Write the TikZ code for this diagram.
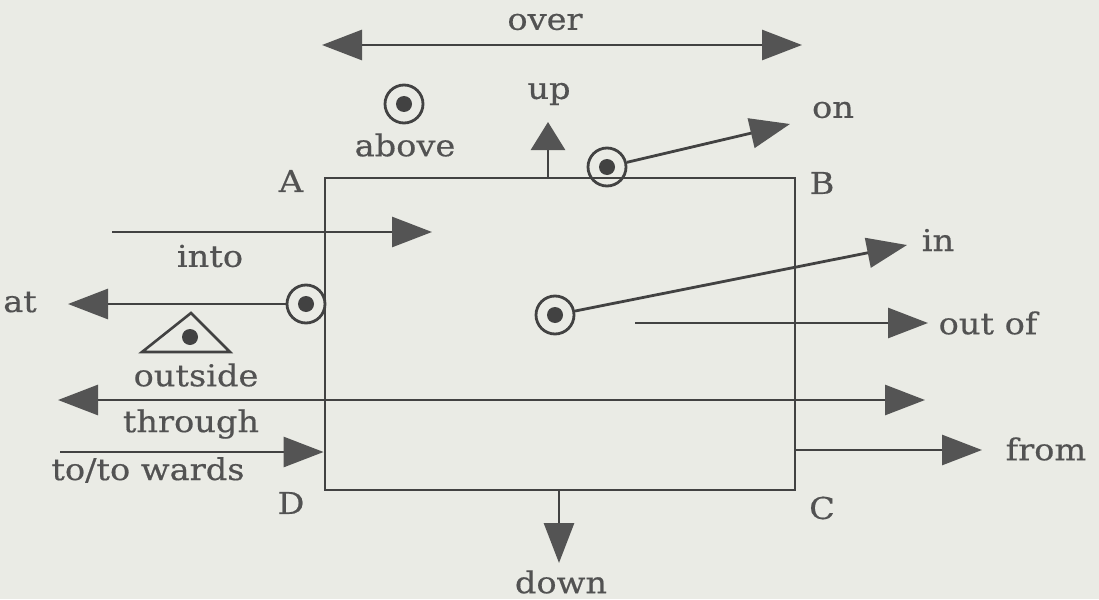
\documentclass[tikz,border=0pt]{standalone}
\usepackage{fontspec}
\setmainfont{DejaVu Serif}[FakeStretch=1.12,FakeBold=0.5]
\usetikzlibrary{arrows.meta}
\definecolor{paper}{RGB}{234,235,229}
\definecolor{ink}{RGB}{66,66,66}
\definecolor{headink}{RGB}{84,84,84}
\definecolor{txt}{RGB}{82,82,82}
\begin{document}
\begin{tikzpicture}[x=1pt,y=-1pt,
  line/.style={draw=ink, line width=2.8pt},
  arr/.style={line, -{Triangle[length=40pt,width=30pt,color=headink,fill=headink]}},
  dblarr/.style={line, {Triangle[length=40pt,width=30pt,color=headink,fill=headink]}-{Triangle[length=40pt,width=30pt,color=headink,fill=headink]}},
  uparr/.style={line, -{Triangle[length=28pt,width=34pt,color=headink,fill=headink]}},
  lbl/.style={text=txt, font=\fontsize{30}{32}\selectfont, inner sep=0pt},
  ring/.style={circle, draw=ink, line width=2.8pt, minimum size=38pt, inner sep=0pt,
    path picture={\fill[ink] (path picture bounding box.center) circle (8pt);}},
  hole/.style={circle, fill=ink, minimum size=16pt, inner sep=0pt},
  region/.style={draw=ink, line width=2.8pt, minimum width=470pt, minimum height=312pt, inner sep=0pt}
]
% paper
\fill[paper] (0,0) rectangle (1099,599);
\useasboundingbox (0,0) rectangle (1099,599);

% the box and its corners
\node[region] (box) at (560,334) {};
\node[lbl] (A) at (291,181) {A};
\node[lbl] (B) at (822,183) {B};
\node[lbl] (C) at (822,508) {C};
\node[lbl] (D) at (291,503) {D};

% over
\coordinate (overL) at (322,45);
\coordinate (overR) at (802,45);
\draw[dblarr] (overL) -- (overR);
\node[lbl] (over) at (545,22) {over};

% above
\node[ring] (abovering) at (404,104) {};
\node[lbl] (above) at (405,145) {above};

% up
\coordinate (upBase) at (548,178);
\coordinate (upTip) at (548,122);
\draw[uparr] (upBase) -- (upTip);
\node[lbl] (up) at (549,94) {up};

% on
\node[ring] (onring) at (607,167) {};
\coordinate (onTip) at (790,124);
\draw[arr] (onring) -- (onTip);
\node[lbl] (on) at (833,110) {on};

% into
\coordinate (intoS) at (112,232);
\coordinate (intoT) at (432,232);
\draw[arr] (intoS) -- (intoT);
\node[lbl] (into) at (210,256) {into};

% at
\node[ring] (atring) at (306,304) {};
\coordinate (atTip) at (68,304);
\draw[arr] (atring) -- (atTip);
\node[lbl] (at) at (20,302) {at};

% outside
\coordinate (triL) at (142,352);
\coordinate (triR) at (230,352);
\coordinate (triT) at (191,313);
\draw[ink, line width=2.6pt, line join=miter] (triL) -- (triT) -- (triR) -- cycle;
\node[hole] (outdot) at (190,337) {};
\node[lbl] (outside) at (196,375) {outside};

% in
\node[ring] (inring) at (555,315) {};
\coordinate (inTip) at (907,245);
\draw[arr] (inring) -- (inTip);
\node[lbl] (in) at (938,240) {in};

% out of
\coordinate (outS) at (635,323);
\coordinate (outT) at (928,323);
\draw[arr] (outS) -- (outT);
\node[lbl] (outof) at (988,323) {out of};

% through
\coordinate (thL) at (58,400);
\coordinate (thR) at (925,400);
\draw[dblarr] (thL) -- (thR);
\node[lbl] (through) at (191,424) {through};

% to/towards
\coordinate (towS) at (60,452);
\draw[arr] (towS) -- (towS -| box.west);
\node[lbl] (towards) at (148,470) {to/to wards};

% from
\coordinate (fromT) at (982,450);
\draw[arr] (box.east |- fromT) -- (fromT);
\node[lbl] (from) at (1046,449) {from};

% down
\coordinate (downBase) at (559,490);
\coordinate (downTip) at (559,563);
\draw[arr] (downBase) -- (downTip);
\node[lbl] (down) at (561,582) {down};
\end{tikzpicture}
\end{document}
